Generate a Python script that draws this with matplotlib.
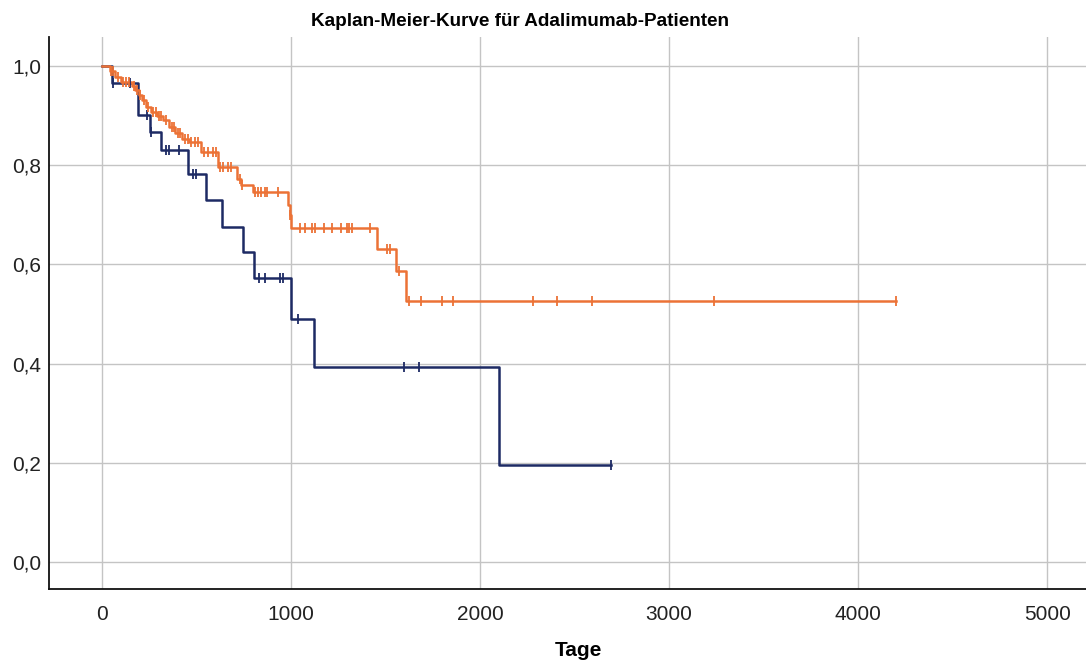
import numpy as np
import matplotlib
matplotlib.use("Agg")
import matplotlib.pyplot as plt

# Group 1 (dark blue): event times (days) and survival after each event
blue_event_days = [54, 194, 253, 315, 456, 553, 634, 748, 806, 1001, 1125, 2101]
blue_survival = [0.965, 0.901, 0.867, 0.830, 0.783, 0.730, 0.676, 0.625, 0.573, 0.491, 0.394, 0.197]
blue_censored = [60, 150, 240, 262, 341, 355, 408, 483, 500, 833, 863, 942, 957,
                 1037, 1597, 1677, 2694]

# Group 2 (orange)
orange_event_days = [45, 70, 100, 160, 178, 195, 215, 235, 260, 295, 325, 355, 390,
                     425, 462, 527, 615, 713, 735, 801, 987, 995, 1002, 1456, 1558, 1608]
orange_survival = [0.990, 0.978, 0.968, 0.960, 0.952, 0.941, 0.931, 0.917, 0.907, 0.899,
                   0.890, 0.877, 0.864, 0.853, 0.847, 0.827, 0.797, 0.773, 0.760, 0.746,
                   0.720, 0.700, 0.674, 0.632, 0.587, 0.527]
orange_censored = [50, 60, 85, 115, 130, 145, 170, 185, 205, 225, 245, 270, 285, 305,
                   315, 340, 370, 380, 405, 415, 440, 458, 474, 492, 509, 540, 562, 589,
                   607, 624, 642, 668, 686, 730, 741, 810, 827, 845, 863, 872, 934, 996,
                   1050, 1077, 1113, 1130, 1174, 1218, 1263, 1298, 1307, 1325, 1417,
                   1509, 1526, 1570, 1626, 1686, 1799, 1860, 2283, 2407, 2593, 3240, 4200]

x_ticks = [0, 1000, 2000, 3000, 4000, 5000]
y_ticks = [0.0, 0.2, 0.4, 0.6, 0.8, 1.0]

title = "Kaplan-Meier-Kurve für Adalimumab-Patienten"
x_label = "Tage"

BLUE = "#1d2a64"
ORANGE = "#ec7236"

plt.rcParams["font.family"] = ["Liberation Sans", "DejaVu Sans"]

fig = plt.figure(figsize=(10.86, 6.62), dpi=100)
ax = fig.add_axes([0.0454, 0.1098, 0.9546, 0.8343])


def km_curve(event_days, survival, censored):
    end = max(censored + event_days)
    t = np.concatenate([[0.0], np.asarray(event_days, float), [end]])
    s = np.concatenate([[1.0], np.asarray(survival, float), [survival[-1]]])
    return t, s


def surv_at(t_steps, s_steps, times):
    idx = np.searchsorted(t_steps, np.asarray(times, float), side="right") - 1
    return s_steps[idx]


for ev, sv, cens, col in [(blue_event_days, blue_survival, blue_censored, BLUE),
                          (orange_event_days, orange_survival, orange_censored, ORANGE)]:
    t, s = km_curve(ev, sv, cens)
    ax.step(t, s, where="post", color=col, lw=1.8, zorder=3)
    ax.plot(cens, surv_at(t, s, cens), ls="none", marker="|", ms=7.5, mew=1.3,
            color=col, zorder=4)

ax.set_xlim(-277, 5205)
ax.set_ylim(-0.054, 1.058)
ax.set_xticks(x_ticks)
ax.set_xticklabels([str(v) for v in x_ticks])
ax.set_yticks(y_ticks)
ax.set_yticklabels([f"{v:.1f}".replace(".", ",") for v in y_ticks])
ax.tick_params(length=0, labelsize=15, colors="#222222")
ax.tick_params(axis="x", pad=11)
ax.tick_params(axis="y", pad=6)
ax.grid(True, color="#c4c4c4", lw=1.0, zorder=0)
ax.set_axisbelow(True)
for side in ("top", "right"):
    ax.spines[side].set_visible(False)
for side in ("left", "bottom"):
    ax.spines[side].set_color("#111111")
    ax.spines[side].set_linewidth(1.3)

fig.text(520 / 1086, 1 - 22 / 662, title, ha="center", va="center",
         fontsize=13.6, fontweight="bold")
fig.text(578 / 1086, 1 - 651 / 662, x_label, ha="center", va="center",
         fontsize=15, fontweight="bold")

fig.savefig("out.png", dpi=100)
